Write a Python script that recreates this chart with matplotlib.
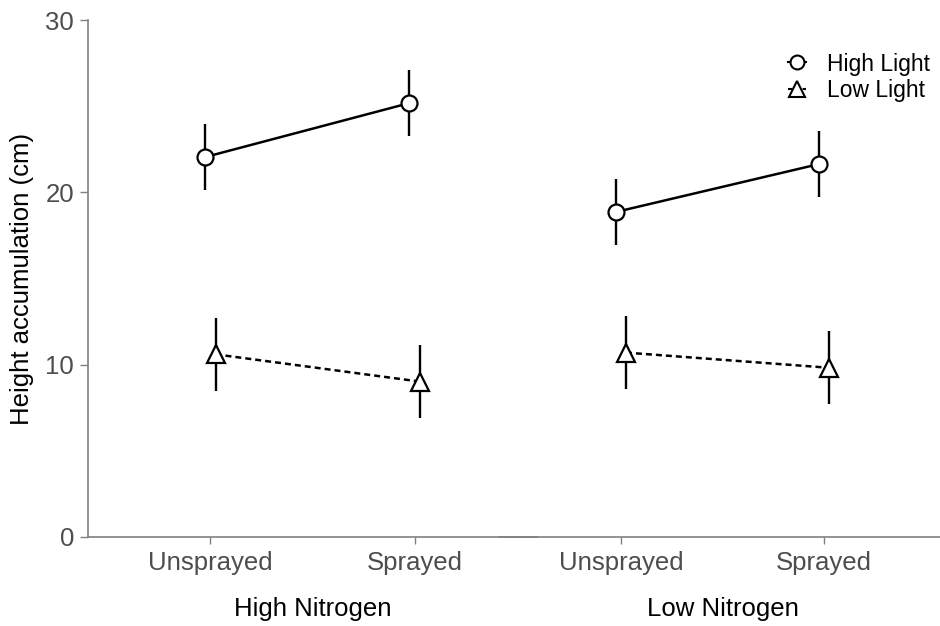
import matplotlib
matplotlib.use('Agg')
import matplotlib.pyplot as plt
import numpy as np
from matplotlib.lines import Line2D

plt.rcParams['font.family'] = ['Liberation Sans', 'DejaVu Sans']

# data
spray = ['Unsprayed', 'Sprayed']
nitrogen = ['High Nitrogen', 'Low Nitrogen']
high_light = [[22.05, 25.18], [18.86, 21.64]]
high_light_se = [[1.92, 1.92], [1.92, 1.92]]
low_light = [[10.6, 9.02], [10.7, 9.82]]
low_light_se = [[2.12, 2.12], [2.12, 2.12]]

grey = '#808080'
tick_col = '#4d4d4d'

fig = plt.figure(figsize=(9.4, 6.26), dpi=100)

# two facets, slightly overlapping like the original
ax1 = fig.add_axes([88/940, 89/626, 449/940, 517/626])
ax2 = fig.add_axes([499/940, 89/626, 447/940, 517/626])
axes = [ax1, ax2]

x = np.arange(1, len(spray) + 1)
dodge = 0.025

for i, ax in enumerate(axes):
    ax.errorbar(x - dodge, high_light[i], yerr=high_light_se[i], color='black', lw=1.8,
                ls='-', marker='o', ms=11.5, mfc='white', mec='black', mew=1.6,
                elinewidth=1.7, capsize=0, zorder=3)
    ax.errorbar(x + dodge, low_light[i], yerr=low_light_se[i], color='black', lw=1.8,
                ls=(0, (2.4, 1.6)), marker='^', ms=12.5, mfc='white', mec='black', mew=1.6,
                elinewidth=1.7, capsize=0, zorder=3)
    ax.set_xlim(0.4, 2.6)
    ax.set_ylim(0, 30)
    ax.set_xticks(x)
    ax.set_xticklabels(spray)
    ax.tick_params(axis='x', colors=grey, labelcolor=tick_col, labelsize=18.5, length=5, width=1, pad=5)
    ax.set_xlabel(nitrogen[i], fontsize=18.5, color='black', labelpad=16)
    for s in ['top', 'right']:
        ax.spines[s].set_visible(False)
    ax.spines['bottom'].set_color(grey)
    ax.spines['bottom'].set_linewidth(1.2)
    ax.patch.set_alpha(0)

ax1.set_yticks([0, 10, 20, 30])
ax1.tick_params(axis='y', colors=grey, labelcolor=tick_col, labelsize=18.5, length=6, width=1, pad=4)
ax1.spines['left'].set_color(grey)
ax1.spines['left'].set_linewidth(1.2)
ax1.set_ylabel('Height accumulation (cm)', fontsize=18.5, color='black', labelpad=8)

ax2.spines['left'].set_visible(False)
ax2.set_yticks([])

handles = [
    Line2D([], [], color='black', lw=1.5, marker='o', ms=10, mfc='white', mec='black', mew=1.5),
    Line2D([], [], color='black', lw=1.5, ls=(0, (2, 1.5)), marker='^', ms=11, mfc='white', mec='black', mew=1.5),
]
ax2.legend(handles, ['High Light', 'Low Light'], loc='upper right', bbox_to_anchor=(1.01, 0.977),
           frameon=False, fontsize=16.5, handlelength=0.8, handletextpad=0.9, labelspacing=0.15)

fig.savefig('out.png', dpi=100)
